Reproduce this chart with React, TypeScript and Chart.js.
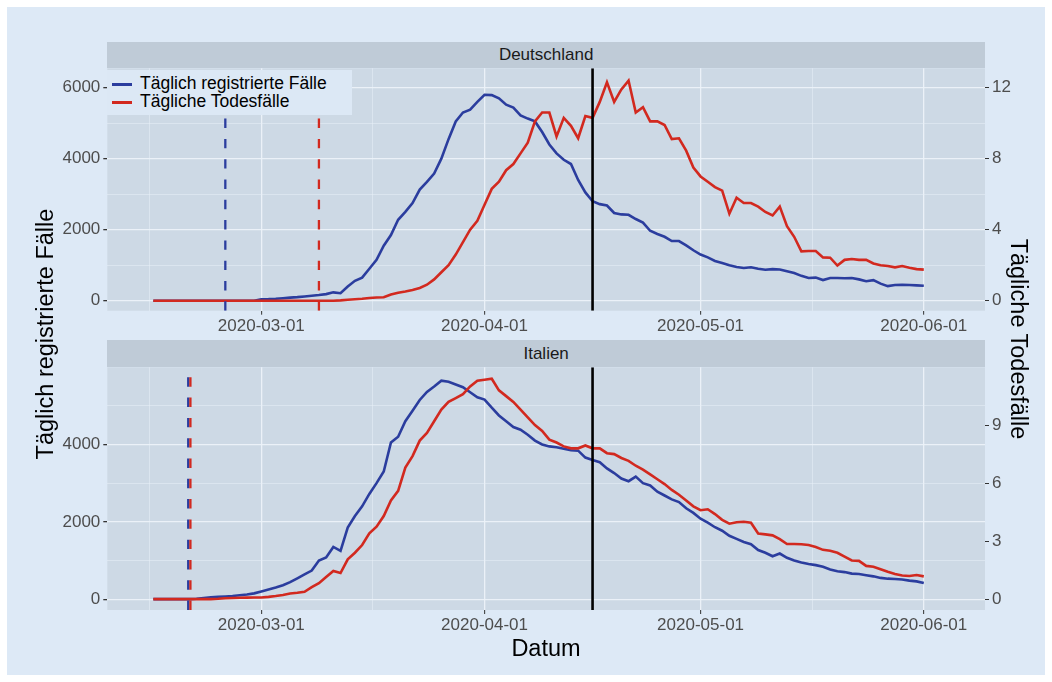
import React, { useEffect, useRef } from "react";
import { Chart, registerables } from "chart.js";

Chart.register(...registerables);

// ---------------- data ----------------
const START_DATE = "2020-02-15"; // first day of every series below (one value per day)
const MONTH_TICKS = ["2020-03-01", "2020-04-01", "2020-05-01", "2020-06-01"];
const RIGHT_AXIS_FACTOR = 500; // left units per right-axis unit

const germanyLeftTicks = [0, 2000, 4000, 6000];
const germanyRightTicks = [0, 4, 8, 12];
const italyLeftTicks = [0, 2000, 4000];
const italyRightTicks = [0, 3, 6, 9];

const germanyCases = [
  0, 0, 0, 0, 0, 0, 0, 0, 0, 0, 0, 0, 0, 0, 0,
  40, 45, 55, 70, 85, 100, 120, 140, 160, 185, 235, 210, 400, 560, 650,
  900, 1150, 1550, 1850, 2280, 2500, 2750, 3130, 3350, 3580, 4000, 4550, 5050, 5300, 5380,
  5600, 5800, 5790, 5700, 5520, 5440, 5220, 5130, 5050, 4750, 4400, 4150, 3970, 3850, 3400,
  3050, 2800, 2720, 2680, 2470, 2430, 2420, 2300, 2200, 1970, 1880, 1800, 1680, 1680, 1560,
  1420, 1300, 1220, 1120, 1060, 1000, 950, 920, 940, 900, 870, 890, 880, 830, 780,
  700, 640, 650, 580, 640, 640, 630, 640, 600, 550, 580, 480, 410, 440, 450,
  440, 430, 420,
];
const germanyDeaths = [
  0, 0, 0, 0, 0, 0, 0, 0, 0, 0, 0, 0, 0, 0, 0,
  0, 0, 0, 0, 0, 0, 0, 0, 0, 0, 0, 0.02, 0.05, 0.08, 0.11,
  0.15, 0.18, 0.19, 0.35, 0.45, 0.52, 0.6, 0.72, 0.9, 1.2, 1.6, 2.0, 2.6, 3.3, 4.0,
  4.5, 5.4, 6.3, 6.7, 7.35, 7.7, 8.3, 8.9, 10.1, 10.6, 10.6, 9.25, 10.3, 9.85, 9.15,
  10.4, 10.3, 11.2, 12.3, 11.2, 11.9, 12.4, 10.6, 10.9, 10.1, 10.1, 9.9, 9.1, 9.15, 8.45,
  7.5, 7.0, 6.7, 6.4, 6.2, 4.9, 5.8, 5.5, 5.5, 5.3, 5.0, 4.8, 5.3, 4.2, 3.6,
  2.78, 2.8, 2.8, 2.44, 2.42, 1.98, 2.3, 2.35, 2.3, 2.3, 2.1, 2.0, 1.95, 1.88, 1.95,
  1.85, 1.78, 1.75,
];
const italyCases = [
  0, 0, 0, 0, 0, 0, 10, 30, 50, 60, 70, 80, 100, 120, 150,
  200, 250, 300, 360, 440, 540, 640, 740, 1000, 1080, 1350, 1250, 1850, 2150, 2400,
  2720, 3000, 3300, 4050, 4200, 4600, 4870, 5150, 5360, 5500, 5650, 5620, 5550, 5480, 5350,
  5220, 5160, 4950, 4750, 4600, 4450, 4380, 4250, 4100, 4000, 3950, 3930, 3890, 3850, 3840,
  3660, 3600, 3540, 3380, 3260, 3120, 3050, 3170, 3000, 2940, 2780, 2680, 2580, 2510, 2350,
  2230, 2080, 1980, 1860, 1770, 1640, 1560, 1480, 1420, 1270, 1200, 1110, 1180, 1070, 1000,
  950, 910, 880, 840, 770, 720, 700, 660, 650, 620, 590, 550, 530, 520, 510,
  480, 460, 420,
];
const italyDeaths = [
  0, 0, 0, 0, 0, 0, 0, 0, 0, 0.02, 0.05, 0.06, 0.07, 0.08, 0.09,
  0.09, 0.12, 0.16, 0.22, 0.29, 0.33, 0.38, 0.62, 0.83, 1.15, 1.46, 1.35, 2.06, 2.4, 2.8,
  3.4, 3.75, 4.3, 5.1, 5.6, 6.8, 7.4, 8.2, 8.6, 9.2, 9.8, 10.2, 10.4, 10.6, 11.0,
  11.3, 11.35, 11.4, 10.8, 10.5, 10.2, 9.8, 9.4, 9.0, 8.7, 8.25, 8.1, 7.9, 7.8, 7.8,
  7.95, 7.8, 7.8, 7.55, 7.5, 7.3, 7.15, 6.9, 6.7, 6.45, 6.2, 5.95, 5.65, 5.4, 5.1,
  4.8, 4.6, 4.65, 4.4, 4.1, 3.9, 3.98, 4.0, 3.95, 3.4, 3.35, 3.3, 3.1, 2.85, 2.85,
  2.84, 2.8, 2.7, 2.55, 2.5, 2.4, 2.2, 2.0, 1.98, 1.72, 1.68, 1.55, 1.42, 1.3, 1.22,
  1.2, 1.25, 1.18,
];
// first registered case / first death (dashed lines)
const germanyFirstDates = ["2020-02-25", "2020-03-09"];
const italyFirstDates = ["2020-02-20", "2020-02-20"];
const REFERENCE_DATE = "2020-04-16"; // solid black line

const SERIES_LABELS = ["Täglich registrierte Fälle", "Tägliche Todesfälle"];
const PANEL_TITLES = ["Deutschland", "Italien"];

// ---------------- style ----------------
const FONT = "'Liberation Sans', Arial, Helvetica, sans-serif";
const BLUE = "#2b3d9e";
const RED = "#d2291f";
const OUTER_BG = "#dde9f6";
const PANEL_BG = "#cdd9e5";
const STRIP_BG = "#bfcbd7";
const GRID_MAJOR = "rgba(236,242,249,0.95)";
const GRID_MINOR = "rgba(232,239,247,0.75)";
const TICK_COL = "#4d4d4d";
const TICK_MARK = "#333333";

const dayIndex = (s: string) =>
  Math.round((Date.parse(s) - Date.parse(START_DATE)) / 86400000);

// minor breaks: midpoints between majors, extended by one step on each side
const withMinor = (majors: number[], lo: number, hi: number) => {
  const out: number[] = [...majors];
  out.push(majors[0] - (majors[1] - majors[0]) / 2);
  for (let i = 0; i < majors.length - 1; i++) out.push((majors[i] + majors[i + 1]) / 2);
  const n = majors.length;
  out.push(majors[n - 1] + (majors[n - 1] - majors[n - 2]) / 2);
  return out.filter((v) => v >= lo && v <= hi).sort((a, b) => a - b);
};

const majorDays = MONTH_TICKS.map(dayIndex);
const X_MIN = -6.39;
const X_MAX = 115.5;

type PanelCfg = {
  cases: number[];
  deaths: number[];
  firstDates: string[];
  leftTicks: number[];
  rightTicks: number[];
  yMin: number;
  yMax: number;
  padTop: number;
  axisH: number;
};

function makeChart(canvas: HTMLCanvasElement, p: PanelCfg) {
  const markerPlugin = {
    id: "markers",
    beforeDraw(chart: any) {
      const { ctx, chartArea: a } = chart;
      ctx.save();
      ctx.fillStyle = PANEL_BG;
      ctx.fillRect(a.left, a.top, a.right - a.left, a.bottom - a.top);
      ctx.restore();
    },
    afterDatasetsDraw(chart: any) {
      const { ctx, chartArea: a } = chart;
      const xs = chart.scales.x;
      ctx.save();
      ctx.beginPath();
      ctx.rect(a.left, a.top, a.right - a.left, a.bottom - a.top);
      ctx.clip();
      const same = p.firstDates[0] === p.firstDates[1];
      const cols = [BLUE, RED];
      p.firstDates.forEach((d, i) => {
        const px = xs.getPixelForValue(dayIndex(d)) + (same ? (i === 0 ? -1.1 : 1.1) : 0);
        ctx.strokeStyle = cols[i];
        ctx.lineWidth = 2.3;
        ctx.setLineDash([9.4, 10.9]);
        ctx.beginPath();
        ctx.moveTo(px, a.bottom);
        ctx.lineTo(px, a.top);
        ctx.stroke();
      });
      ctx.setLineDash([]);
      const bx = xs.getPixelForValue(dayIndex(REFERENCE_DATE));
      ctx.strokeStyle = "#000";
      ctx.lineWidth = 2.6;
      ctx.beginPath();
      ctx.moveTo(bx, a.bottom);
      ctx.lineTo(bx, a.top);
      ctx.stroke();
      ctx.restore();
    },
  };

  const xTicks = withMinor(majorDays, X_MIN, X_MAX);
  const yTicks = withMinor(p.leftTicks, p.yMin, p.yMax);
  const isMajX = (v: any) => majorDays.includes(v);
  const isMajY = (v: any) => p.leftTicks.includes(v);

  return new Chart(canvas, {
    type: "line",
    data: {
      datasets: [
        {
          label: SERIES_LABELS[0],
          data: p.cases.map((v, i) => ({ x: i, y: v })),
          borderColor: BLUE,
          borderWidth: 2.6,
          pointRadius: 0,
          yAxisID: "y",
          order: 2,
        },
        {
          label: SERIES_LABELS[1],
          data: p.deaths.map((v, i) => ({ x: i, y: v })),
          borderColor: RED,
          borderWidth: 2.6,
          pointRadius: 0,
          yAxisID: "y1",
          order: 1,
        },
      ],
    },
    options: {
      animation: false,
      responsive: false,
      events: [],
      layout: { padding: { top: p.padTop, left: 0, right: 0, bottom: 0 } },
      plugins: { legend: { display: false }, tooltip: { enabled: false } },
      scales: {
        x: {
          type: "linear",
          min: X_MIN,
          max: X_MAX,
          border: { display: false },
          afterBuildTicks: (s: any) => {
            s.ticks = xTicks.map((v) => ({ value: v }));
          },
          afterFit: (s: any) => {
            s.height = p.axisH;
          },
          grid: {
            color: (c: any) => (isMajX(c.tick?.value) ? GRID_MAJOR : GRID_MINOR),
            lineWidth: (c: any) => (isMajX(c.tick?.value) ? 1.3 : 0.7),
            tickColor: (c: any) => (isMajX(c.tick?.value) ? TICK_MARK : "rgba(0,0,0,0)"),
            tickLength: 4,
            tickWidth: 1,
          },
          ticks: {
            autoSkip: false,
            maxRotation: 0,
            padding: 1,
            color: TICK_COL,
            font: { size: 17, family: FONT },
            callback: (v: any) => {
              const i = majorDays.indexOf(Number(v));
              return i >= 0 ? MONTH_TICKS[i] : "";
            },
          },
        },
        y: {
          position: "left",
          min: p.yMin,
          max: p.yMax,
          border: { display: false },
          afterBuildTicks: (s: any) => {
            s.ticks = yTicks.map((v) => ({ value: v }));
          },
          afterFit: (s: any) => {
            s.width = 107.3;
          },
          grid: {
            color: (c: any) => (isMajY(c.tick?.value) ? GRID_MAJOR : GRID_MINOR),
            lineWidth: (c: any) => (isMajY(c.tick?.value) ? 1.3 : 0.7),
            tickColor: (c: any) => (isMajY(c.tick?.value) ? TICK_MARK : "rgba(0,0,0,0)"),
            tickLength: 4,
          },
          ticks: {
            autoSkip: false,
            padding: 3,
            color: TICK_COL,
            font: { size: 17, family: FONT },
            callback: (v: any) => (isMajY(Number(v)) ? String(v) : ""),
          },
        },
        y1: {
          position: "right",
          min: p.yMin / RIGHT_AXIS_FACTOR,
          max: p.yMax / RIGHT_AXIS_FACTOR,
          border: { display: false },
          afterBuildTicks: (s: any) => {
            s.ticks = p.rightTicks.map((v) => ({ value: v }));
          },
          afterFit: (s: any) => {
            s.width = 67;
          },
          grid: { drawOnChartArea: false, tickColor: TICK_MARK, tickLength: 4 },
          ticks: {
            autoSkip: false,
            padding: 3,
            color: TICK_COL,
            font: { size: 17, family: FONT },
            callback: (v: any) => String(v),
          },
        },
      },
    },
    plugins: [markerPlugin],
  } as any);
}

const abs = (o: any): React.CSSProperties => ({ position: "absolute", ...o });

function Strip({ top, height, text }: { top: number; height: number; text: string }) {
  return (
    <div
      style={abs({
        left: 107.3,
        top,
        width: 877.7,
        height,
        background: STRIP_BG,
        color: "#1a1a1a",
        fontFamily: FONT,
        fontSize: 17,
        lineHeight: `${height}px`,
        textAlign: "center",
      })}
    >
      {text}
    </div>
  );
}

export default function App() {
  const topRef = useRef<HTMLCanvasElement>(null);
  const botRef = useRef<HTMLCanvasElement>(null);

  useEffect(() => {
    Chart.defaults.font.family = FONT;
    const c1 = makeChart(topRef.current!, {
      cases: germanyCases,
      deaths: germanyDeaths,
      firstDates: germanyFirstDates,
      leftTicks: germanyLeftTicks,
      rightTicks: germanyRightTicks,
      yMin: -282,
      yMax: 6546,
      padTop: 68.3,
      axisH: 336 - 310.7,
    });
    const c2 = makeChart(botRef.current!, {
      cases: italyCases,
      deaths: italyDeaths,
      firstDates: italyFirstDates,
      leftTicks: italyLeftTicks,
      rightTicks: italyRightTicks,
      yMin: -280,
      yMax: 5995,
      padTop: 367.3 - 336,
      axisH: 636 - 610,
    });
    return () => {
      c1.destroy();
      c2.destroy();
    };
  }, []);

  return (
    <div style={abs({ left: 0, top: 0, width: 1052, height: 682, background: "#ffffff", overflow: "hidden" })}>
      <div style={abs({ left: 7, top: 7, width: 1038, height: 668, background: OUTER_BG })} />
      <Strip top={41.7} height={26.6} text={PANEL_TITLES[0]} />
      <Strip top={340} height={27.3} text={PANEL_TITLES[1]} />
      <canvas
        ref={topRef}
        width={1052}
        height={336}
        style={abs({ left: 0, top: 0, width: 1052, height: 336 })}
      />
      <canvas
        ref={botRef}
        width={1052}
        height={300}
        style={abs({ left: 0, top: 336, width: 1052, height: 300 })}
      />
      {/* legend */}
      <div
        style={abs({
          left: 107.3,
          top: 69.5,
          width: 245,
          height: 45,
          background: "#dce8f5",
          fontFamily: FONT,
          fontSize: 17.5,
          color: "#000",
        })}
      >
        <div style={abs({ left: 4.5, top: 13.6, width: 20, height: 2.6, background: BLUE })} />
        <div style={abs({ left: 4.5, top: 31.6, width: 20, height: 2.6, background: RED })} />
        <div style={abs({ left: 32.7, top: 4, lineHeight: "18px", whiteSpace: "nowrap" })}>{SERIES_LABELS[0]}</div>
        <div style={abs({ left: 32.7, top: 22, lineHeight: "18px", whiteSpace: "nowrap" })}>{SERIES_LABELS[1]}</div>
      </div>
      {/* axis titles */}
      <div
        style={abs({
          left: 45 - 170,
          top: 334 - 16,
          width: 340,
          height: 32,
          lineHeight: "32px",
          textAlign: "center",
          fontFamily: FONT,
          fontSize: 23.5,
          color: "#000",
          transform: "rotate(-90deg)",
        })}
      >
        Täglich registrierte Fälle
      </div>
      <div
        style={abs({
          left: 1019 - 170,
          top: 339 - 16,
          width: 340,
          height: 32,
          lineHeight: "32px",
          textAlign: "center",
          fontFamily: FONT,
          fontSize: 23.5,
          color: "#000",
          transform: "rotate(90deg)",
        })}
      >
        Tägliche Todesfälle
      </div>
      <div
        style={abs({
          left: 546 - 100,
          top: 648 - 16,
          width: 200,
          height: 32,
          lineHeight: "32px",
          textAlign: "center",
          fontFamily: FONT,
          fontSize: 23.5,
          color: "#000",
        })}
      >
        Datum
      </div>
    </div>
  );
}
